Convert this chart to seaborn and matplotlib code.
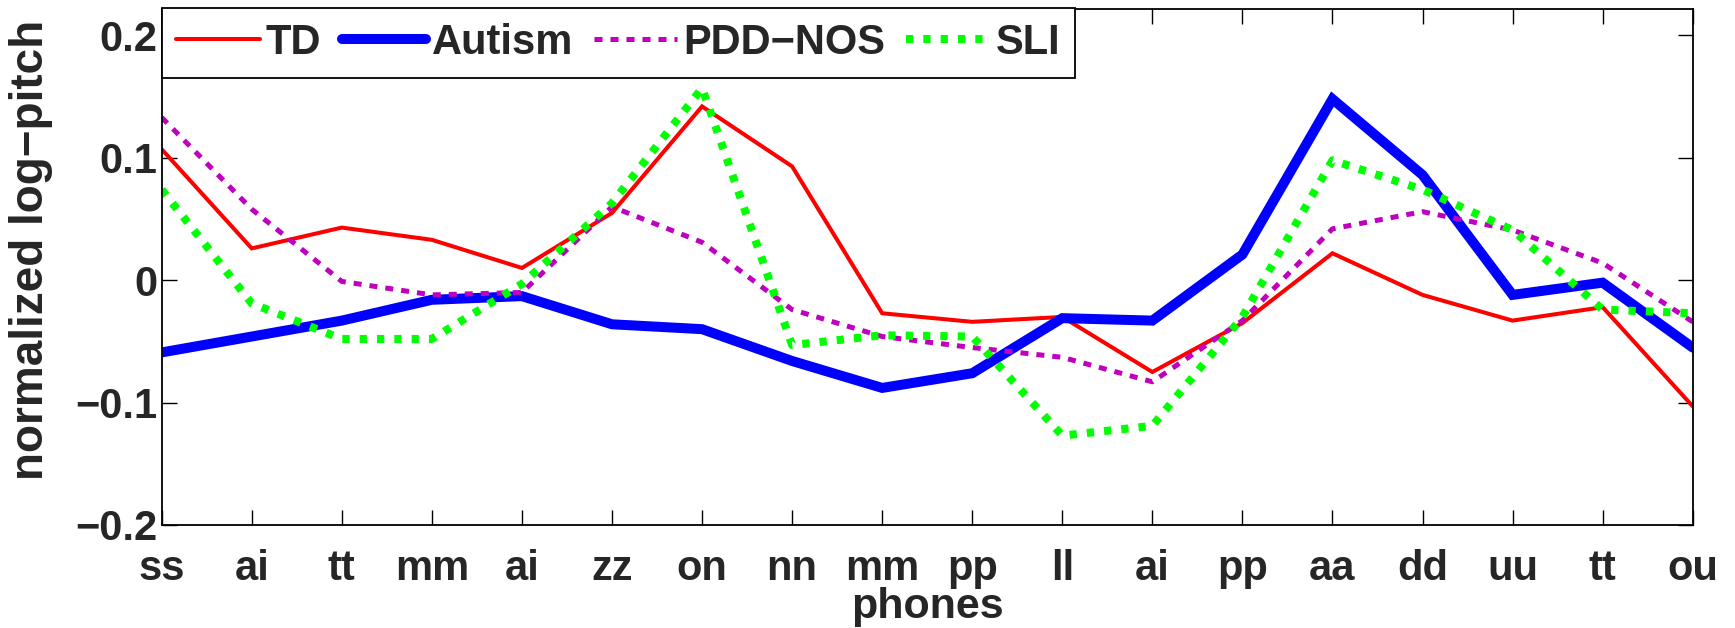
import numpy as np
import pandas as pd
import matplotlib
matplotlib.use("Agg")
import matplotlib.pyplot as plt
import seaborn as sns

# ---- data ----
phones = ["ss", "ai", "tt", "mm", "ai", "zz", "on", "nn", "mm", "pp",
          "ll", "ai", "pp", "aa", "dd", "uu", "tt", "ou"]
td = [0.107, 0.026, 0.043, 0.033, 0.010, 0.055, 0.142, 0.093, -0.027, -0.034,
      -0.030, -0.075, -0.035, 0.022, -0.012, -0.033, -0.022, -0.103]
autism = [-0.059, -0.046, -0.033, -0.016, -0.013, -0.036, -0.040, -0.066, -0.088, -0.076,
          -0.031, -0.033, 0.021, 0.148, 0.086, -0.012, -0.002, -0.055]
pdd_nos = [0.133, 0.058, -0.001, -0.012, -0.010, 0.060, 0.031, -0.024, -0.046, -0.055,
           -0.063, -0.083, -0.033, 0.042, 0.056, 0.041, 0.014, -0.034]
sli = [0.074, -0.019, -0.048, -0.048, -0.003, 0.063, 0.157, -0.053, -0.045, -0.046,
       -0.127, -0.119, -0.030, 0.098, 0.074, 0.041, -0.024, -0.027]
series_names = ["TD", "Autism", "PDD\u2212NOS", "SLI"]
yticks = [-0.2, -0.1, 0, 0.1, 0.2]
ytick_labels = ["\u22120.2", "\u22120.1", "0", "0.1", "0.2"]

sns.set_theme(style="white")
plt.rcParams["font.family"] = ["Liberation Sans", "DejaVu Sans"]
plt.rcParams["font.weight"] = "bold"
plt.rcParams["axes.labelweight"] = "bold"
plt.rcParams["axes.unicode_minus"] = True

pos = np.arange(len(phones))
df = pd.DataFrame({"pos": pos, "TD": td, "Autism": autism,
                   "PDD\u2212NOS": pdd_nos, "SLI": sli})

styles = {
    "TD": dict(color="#FF0000", lw=2.9, ls="-"),
    "Autism": dict(color="#0000FF", lw=7.2, ls="-"),
    "PDD\u2212NOS": dict(color="#BF00BF", lw=3.6, ls=(0, (1.6, 1.6))),
    "SLI": dict(color="#00FF00", lw=5.8, ls=(0, (0.9, 1.25))),
}

fig = plt.figure(figsize=(17.35, 6.28), dpi=100)
ax = fig.add_axes([161.7 / 1735, 1 - 525 / 628, (1692.7 - 161.7) / 1735, (525 - 8.5) / 628])

for name in series_names:
    st = styles[name]
    sns.lineplot(data=df, x="pos", y=name, ax=ax, color=st["color"],
                 linewidth=st["lw"], linestyle=st["ls"], label=name,
                 solid_joinstyle="miter", dash_capstyle="butt")

ax.set_xlim(0, len(phones) - 1)
ax.set_ylim(-0.2, 0.222)
ax.set_xticks(pos)
ax.set_xticklabels(phones)
ax.set_yticks(yticks)
ax.set_yticklabels(ytick_labels)
ax.set_xlabel("phones", fontsize=31, fontweight="bold", labelpad=-1)
ax.set_ylabel("normalized log\u2212pitch", fontsize=33, fontweight="bold")
ax.yaxis.set_label_coords(-0.071, 0.532)

ax.tick_params(axis="both", which="both", direction="in", length=10.8, width=1.0,
               labelsize=30, top=True, right=True, bottom=True, left=True,
               color="black")
ax.tick_params(axis="x", pad=17)
ax.tick_params(axis="y", pad=3)
for lab in ax.get_xticklabels() + ax.get_yticklabels():
    lab.set_fontweight("bold")
for sp in ax.spines.values():
    sp.set_visible(True)
    sp.set_color("black")
    sp.set_linewidth(1.3)

leg = ax.legend(loc="upper left", ncol=4, borderaxespad=0, frameon=True,
                fancybox=False, shadow=False, handlelength=2.0,
                handletextpad=0.15, columnspacing=0.5, borderpad=0.35,
                prop={"weight": "bold", "size": 30})
leg.get_frame().set_edgecolor("black")
leg.get_frame().set_linewidth(1.3)
leg.get_frame().set_alpha(1)

fig.savefig("out.png", dpi=100)
